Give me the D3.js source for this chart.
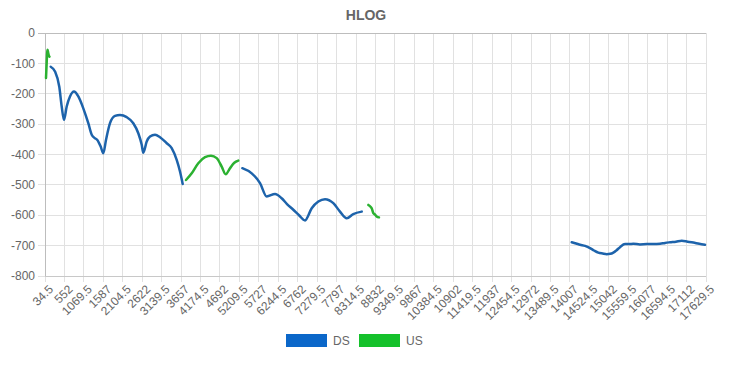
<!DOCTYPE html>
<html>
<head>
<meta charset="utf-8">
<script src="https://cdn.jsdelivr.net/npm/d3@7"></script>
<style>
  body { margin: 0; background: #fff; }
  svg text { font-family: "Liberation Sans", Arial, sans-serif; fill: #666; }
</style>
</head>
<body>
<svg id="chart" width="731" height="365"></svg>
<script>
// x tick labels (kHz)
const xTicks = [34.5, 552, 1069.5, 1587, 2104.5, 2622, 3139.5, 3657, 4174.5, 4692, 5209.5,
  5727, 6244.5, 6762, 7279.5, 7797, 8314.5, 8832, 9349.5, 9867, 10384.5, 10902, 11419.5,
  11937, 12454.5, 12972, 13489.5, 14007, 14524.5, 15042, 15559.5, 16077, 16594.5, 17112, 17629.5];
const yTicks = [0, -100, -200, -300, -400, -500, -600, -700, -800];

// DS bands [freq, hlog]
const ds1 = [[186,-111],[301,-127],[415,-177],[479,-242],[540,-286],[612,-242],[700,-209],
  [806,-193],[921,-209],[1054,-248],[1187,-297],[1278,-335],[1360,-346],[1427,-352],[1517,-374],
  [1586,-396],[1658,-352],[1765,-297],[1898,-273],[2031,-270],[2209,-277],[2385,-297],
  [2518,-330],[2609,-368],[2651,-394],[2742,-357],[2830,-341],[2963,-335],[3096,-343],
  [3274,-363],[3407,-379],[3540,-418],[3628,-456],[3700,-497]];
const ds2 = [[5287,-445],[5537,-462],[5758,-494],[5936,-538],[6157,-530],[6335,-544],
  [6476,-563],[6644,-582],[6796,-600],[6956,-617],[7134,-577],[7310,-555],[7488,-547],
  [7709,-560],[7887,-588],[8066,-610],[8241,-596],[8465,-588]];
const ds3 = [[14055,-689],[14170,-693],[14276,-697],[14410,-701],[14542,-708],[14650,-716],
  [14763,-723],[14880,-726],[14987,-728],[15080,-727],[15163,-723],[15250,-715],[15341,-705],
  [15474,-695],[15580,-695],[15695,-694],[15870,-696],[16052,-695],[16230,-695],[16406,-694],
  [16540,-691],[16672,-689],[16830,-687],[16984,-684],[17140,-687],[17292,-690],[17450,-694],
  [17604,-697]];

// US bands [freq, hlog]
const us0 = [[61,-148],[75,-110],[92,-65],[104,-55],[120,-66],[140,-76],[154,-78]];
const us1 = [[3788,-484],[3940,-462],[4115,-429],[4294,-409],[4453,-404],[4605,-412],
  [4738,-440],[4845,-465],[4959,-445],[5074,-427],[5180,-420]];
const us2 = [[8641,-566],[8700,-572],[8731,-577],[8774,-593],[8820,-598],[8864,-604],[8925,-607]];

const dsSegments = [ds1, ds2, ds3];
const usSegments = [us0, us1, us2];

const svg = d3.select("#chart");
const plotL = 45, plotR = 706, plotT = 33, plotB = 276;

const x = d3.scaleLinear().domain([34.5, 17629.5]).range([plotL, plotR]);
const y = d3.scaleLinear().domain([-800, 0]).range([plotB, plotT]);

// title
svg.append("text").attr("x", 366).attr("y", 20).attr("text-anchor", "middle")
  .style("font-size", "14px").style("font-weight", "bold").text("HLOG");

// grid
const grid = svg.append("g");
grid.selectAll(".vg").data(xTicks).join("line")
  .attr("x1", d => x(d)).attr("x2", d => x(d))
  .attr("y1", plotT).attr("y2", plotB + 6)
  .attr("stroke", "#e1e1e1").attr("stroke-width", 1).attr("shape-rendering", "crispEdges");
grid.selectAll(".hg").data(yTicks).join("line")
  .attr("x1", plotL - 7).attr("x2", plotR)
  .attr("y1", d => y(d)).attr("y2", d => y(d))
  .attr("stroke", d => (d === 0 ? "#bdbdbd" : "#e1e1e1"))
  .attr("shape-rendering", "crispEdges");
// axis borders
svg.append("line").attr("x1", plotL).attr("x2", plotL).attr("y1", plotT).attr("y2", plotB)
  .attr("stroke", "#bdbdbd").attr("shape-rendering", "crispEdges");
svg.append("line").attr("x1", plotL).attr("x2", plotR).attr("y1", plotB).attr("y2", plotB)
  .attr("stroke", "#c8c8c8").attr("shape-rendering", "crispEdges");

// y labels
svg.append("g").selectAll("text").data(yTicks).join("text")
  .attr("x", plotL - 10).attr("y", d => y(d)).attr("dy", "0.35em")
  .attr("text-anchor", "end").style("font-size", "12px").text(d => d);

// x labels rotated
svg.append("g").selectAll("text").data(xTicks).join("text")
  .attr("transform", d => `translate(${x(d) + 3},${plotB + 8}) rotate(-45)`)
  .attr("text-anchor", "end").attr("dy", "0.7em")
  .style("font-size", "12px").text(d => d);

// lines
const line = d3.line().x(d => x(d[0])).y(d => y(d[1])).curve(d3.curveMonotoneX);
svg.append("g").selectAll("path").data(dsSegments).join("path")
  .attr("d", line).attr("fill", "none").attr("stroke", "#1d63ab")
  .attr("stroke-width", 2.5).attr("stroke-linejoin", "round").attr("stroke-linecap", "round");
svg.append("g").selectAll("path").data(usSegments).join("path")
  .attr("d", line).attr("fill", "none").attr("stroke", "#2bb131")
  .attr("stroke-width", 2.5).attr("stroke-linejoin", "round").attr("stroke-linecap", "round");

// legend
const legend = [{ name: "DS", color: "#0b67c9", x: 286 }, { name: "US", color: "#15c12b", x: 359 }];
const lg = svg.append("g").selectAll("g").data(legend).join("g")
  .attr("transform", d => `translate(${d.x},334)`);
lg.append("rect").attr("width", 41).attr("height", 13).attr("fill", d => d.color);
lg.append("text").attr("x", 47).attr("y", 7).attr("dy", "0.35em")
  .style("font-size", "12px").text(d => d.name);
</script>
</body>
</html>
